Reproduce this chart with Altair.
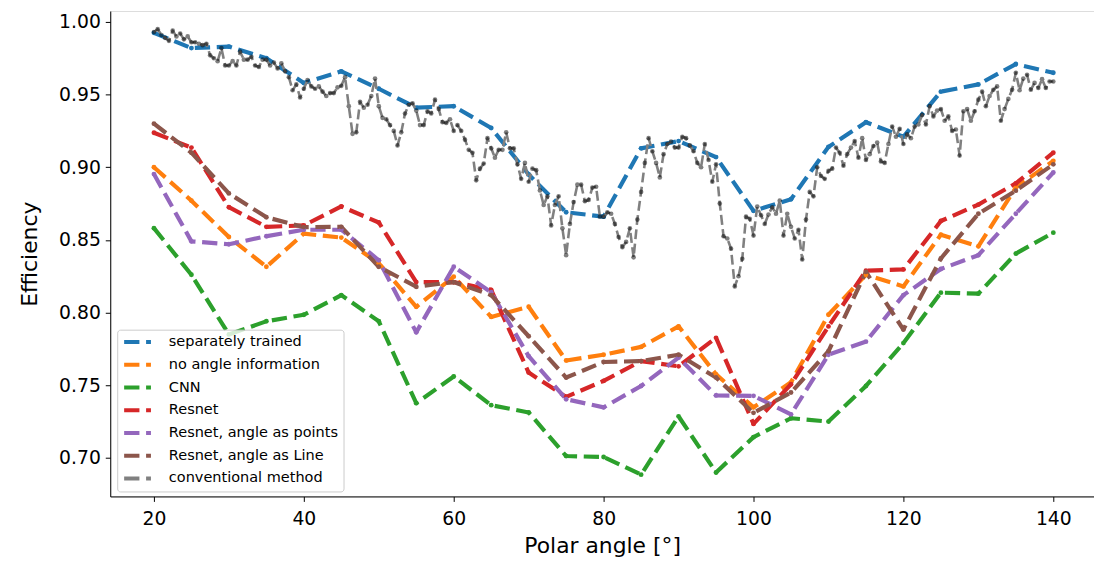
import altair as alt
import pandas as pd

# ---------------- data ----------------
ANGLES = [20, 25, 30, 35, 40, 45, 50, 55, 60, 65, 70, 75, 80, 85, 90,
          95, 100, 105, 110, 115, 120, 125, 130, 135, 140]

SEP_TRAINED = [0.9925, 0.982, 0.983, 0.975, 0.958, 0.966, 0.954, 0.941, 0.942, 0.927,
               0.895, 0.869, 0.866, 0.913, 0.918, 0.907, 0.870, 0.878, 0.914, 0.931,
               0.921, 0.952, 0.957, 0.971, 0.965]
NO_ANGLE = [0.900, 0.877, 0.852, 0.8315, 0.8543, 0.8516, 0.834, 0.804, 0.8247, 0.797,
            0.804, 0.767, 0.771, 0.7764, 0.7905, 0.7575, 0.7348, 0.752, 0.7985, 0.826,
            0.818, 0.8536, 0.8456, 0.886, 0.9044]
CNN = [0.8581, 0.826, 0.785, 0.794, 0.7985, 0.812, 0.794, 0.7377, 0.756, 0.7363,
       0.7313, 0.7013, 0.7006, 0.6885, 0.7286, 0.690, 0.7143, 0.7273, 0.725, 0.7495,
       0.779, 0.8137, 0.813, 0.8406, 0.855]
RESNET = [0.9237, 0.9135, 0.8725, 0.859, 0.860, 0.873, 0.862, 0.821, 0.821, 0.8156,
          0.7587, 0.742, 0.753, 0.7666, 0.763, 0.7826, 0.7234, 0.7507, 0.7905, 0.8288,
          0.8297, 0.863, 0.8743, 0.8889, 0.910]
RESNET_POINTS = [0.8953, 0.849, 0.847, 0.8525, 0.857, 0.857, 0.836, 0.7864, 0.8315, 0.814,
                 0.770, 0.7404, 0.7348, 0.7495, 0.769, 0.743, 0.7427, 0.730, 0.771, 0.780,
                 0.812, 0.830, 0.8395, 0.868, 0.8964]
RESNET_LINE = [0.930, 0.910, 0.882, 0.8656, 0.8588, 0.859, 0.8315, 0.8178, 0.821, 0.812,
               0.7837, 0.7553, 0.766, 0.7666, 0.771, 0.7553, 0.731, 0.745, 0.7734, 0.828,
               0.7883, 0.8372, 0.868, 0.8839, 0.902]

CONV_ANGLES = [20, 20.5, 21, 21.5, 22, 22.5, 23, 23.5, 24, 24.5, 25, 25.5, 26, 26.5, 27, 27.5,
               28, 28.5, 29, 29.5, 30, 30.5, 31, 31.5, 32, 32.5, 33, 33.5, 34, 34.5, 35, 35.5,
               36, 36.5, 37, 37.5, 38, 38.5, 39, 39.5, 40, 40.5, 41, 41.5, 42, 42.5, 43, 43.5,
               44, 44.5, 45, 45.5, 46, 46.5, 47, 47.5, 48, 48.5, 49, 49.5, 50, 50.5, 51, 51.5,
               52, 52.5, 53, 53.5, 54, 54.5, 55, 55.5, 56, 56.5, 57, 57.5, 58, 58.5, 59, 59.5,
               60, 60.5, 61, 61.5, 62, 62.5, 63, 63.5, 64, 64.5, 65, 65.5, 66, 66.5, 67, 67.5,
               68, 68.5, 69, 69.5, 70, 70.5, 71, 71.5, 72, 72.5, 73, 73.5, 74, 74.5, 75, 75.5,
               76, 76.5, 77, 77.5, 78, 78.5, 79, 79.5, 80, 80.5, 81, 81.5, 82, 82.5, 83, 83.5,
               84, 84.5, 85, 85.5, 86, 86.5, 87, 87.5, 88, 88.5, 89, 89.5, 90, 90.5, 91, 91.5,
               92, 92.5, 93, 93.5, 94, 94.5, 95, 95.5, 96, 96.5, 97, 97.5, 98, 98.5, 99, 99.5,
               100, 100.5, 101, 101.5, 102, 102.5, 103, 103.5, 104, 104.5, 105, 105.5, 106, 106.5,
               107, 107.5, 108, 108.5, 109, 109.5, 110, 110.5, 111, 111.5, 112, 112.5, 113, 113.5,
               114, 114.5, 115, 115.5, 116, 116.5, 117, 117.5, 118, 118.5, 119, 119.5, 120, 120.5,
               121, 121.5, 122, 122.5, 123, 123.5, 124, 124.5, 125, 125.5, 126, 126.5, 127, 127.5,
               128, 128.5, 129, 129.5, 130, 130.5, 131, 131.5, 132, 132.5, 133, 133.5, 134, 134.5,
               135, 135.5, 136, 136.5, 137, 137.5, 138, 138.5, 139, 139.5, 140]
CONVENTIONAL = [0.993, 0.995, 0.991, 0.989, 0.987, 0.994, 0.990, 0.992, 0.988, 0.990, 0.986, 0.986,
                0.985, 0.984, 0.985, 0.977, 0.975, 0.973, 0.982, 0.970, 0.970, 0.973, 0.970, 0.9795,
                0.974, 0.974, 0.976, 0.970, 0.969, 0.974, 0.974, 0.970, 0.972, 0.968, 0.9715, 0.966,
                0.962, 0.953, 0.957, 0.948, 0.954, 0.960, 0.9556, 0.954, 0.9556, 0.952, 0.949, 0.951,
                0.951, 0.955, 0.956, 0.962, 0.942, 0.923, 0.924, 0.945, 0.941, 0.943, 0.949, 0.961,
                0.942, 0.934, 0.933, 0.929, 0.925, 0.915, 0.924, 0.937, 0.943, 0.944, 0.939, 0.929,
                0.929, 0.9385, 0.937, 0.9465, 0.940, 0.931, 0.9305, 0.933, 0.925, 0.929, 0.925, 0.919,
                0.912, 0.910, 0.891, 0.899, 0.9025, 0.920, 0.913, 0.9066, 0.912, 0.912, 0.924, 0.913,
                0.913, 0.902, 0.892, 0.903, 0.890, 0.899, 0.898, 0.884, 0.874, 0.880, 0.860, 0.874,
                0.880, 0.858, 0.8395, 0.861, 0.876, 0.888, 0.888, 0.8766, 0.8775, 0.886, 0.8866, 0.866,
                0.866, 0.869, 0.868, 0.861, 0.852, 0.845, 0.8486, 0.858, 0.838, 0.864, 0.883, 0.903,
                0.920, 0.911, 0.903, 0.893, 0.909, 0.916, 0.9176, 0.9135, 0.9135, 0.921, 0.920, 0.915,
                0.911, 0.903, 0.900, 0.916, 0.905, 0.890, 0.902, 0.875, 0.8525, 0.851, 0.844, 0.818,
                0.825, 0.837, 0.866, 0.8645, 0.853, 0.873, 0.867, 0.861, 0.8675, 0.8725, 0.868, 0.877,
                0.853, 0.868, 0.859, 0.851, 0.857, 0.8365, 0.864, 0.883, 0.880, 0.900, 0.894, 0.892,
                0.8975, 0.899, 0.9135, 0.910, 0.901, 0.909, 0.9135, 0.918, 0.9066, 0.920, 0.905, 0.909,
                0.9146, 0.917, 0.904, 0.903, 0.916, 0.928, 0.921, 0.9265, 0.916, 0.9226, 0.920, 0.928,
                0.9294, 0.936, 0.9294, 0.942, 0.935, 0.939, 0.940, 0.932, 0.935, 0.925, 0.926, 0.908,
                0.9385, 0.940, 0.932, 0.9385, 0.9465, 0.952, 0.942, 0.949, 0.9533, 0.9556, 0.932, 0.940,
                0.947, 0.9533, 0.965, 0.953, 0.961, 0.9636, 0.9533, 0.958, 0.9545, 0.9606, 0.9545, 0.959,
                0.959]

SERIES_NAMES = ["separately trained", "no angle information", "CNN", "Resnet",
                "Resnet, angle as points", "Resnet, angle as Line", "conventional method"]
SERIES_COLORS = ["#1f77b4", "#ff7f0e", "#2ca02c", "#d62728", "#9467bd", "#8c564b", "#808080"]
X_TICKS = [20, 40, 60, 80, 100, 120, 140]
Y_TICKS = [0.70, 0.75, 0.80, 0.85, 0.90, 0.95, 1.00]

# ---------------- tables ----------------
model_values = [SEP_TRAINED, NO_ANGLE, CNN, RESNET, RESNET_POINTS, RESNET_LINE]
rows = []
for name, vals in zip(SERIES_NAMES[:6], model_values):
    for order, (a, v) in enumerate(zip(ANGLES, vals)):
        rows.append({"series": name, "angle": a, "value": v, "order": order})
models = pd.DataFrame(rows)
conv = pd.DataFrame({"series": SERIES_NAMES[6], "angle": CONV_ANGLES, "value": CONVENTIONAL})

FONT = "DejaVu Sans"

x_scale = alt.Scale(domain=[14.17, 145.43], nice=False, zero=False)
y_scale = alt.Scale(domain=[0.6735, 1.0075], nice=False, zero=False)
c_scale = alt.Scale(domain=SERIES_NAMES, range=SERIES_COLORS)

x_axis = alt.Axis(values=X_TICKS, title="Polar angle [°]", grid=False, labelFontSize=18.9,
                  titleFontSize=22, tickSize=5, labelPadding=8, titlePadding=8,
                  domainColor="black", tickColor="black", labelColor="black",
                  titleColor="black", titleFontWeight="normal", labelFont=FONT,
                  titleFont=FONT, labelFlush=False)
y_axis = alt.Axis(values=Y_TICKS, format=".2f", title="Efficiency", grid=False,
                  labelFontSize=18.9, titleFontSize=22, tickSize=5, labelPadding=5,
                  titlePadding=17, domainColor="black", tickColor="black",
                  labelColor="black", titleColor="black", titleFontWeight="normal",
                  labelFont=FONT, titleFont=FONT, labelFlush=False)

color = alt.Color(
    "series:N",
    scale=c_scale,
    sort=SERIES_NAMES,
    legend=alt.Legend(
        orient="none", legendX=7, legendY=321, title=None,
        symbolType="stroke", symbolSize=729, symbolStrokeWidth=4,
        symbolDash=[15.4, 6.7], clipHeight=15, rowPadding=6.9,
        labelFontSize=14.6, labelFont=FONT, labelColor="black", labelOffset=16,
        labelLimit=0, padding=5, fillColor="rgba(255,255,255,0.8)",
        strokeColor="#cccccc", cornerRadius=3, symbolOffset=0,
    ),
)

model_lines = alt.Chart(models).mark_line(
    strokeWidth=4.2, strokeDash=[15.4, 6.7], strokeJoin="round", clip=True
).encode(
    x=alt.X("angle:Q", scale=x_scale, axis=x_axis),
    y=alt.Y("value:Q", scale=y_scale, axis=y_axis),
    color=color,
    order="order:Q",
    detail="series:N",
)

model_points = alt.Chart(models).mark_circle(size=24, opacity=1).encode(
    x=alt.X("angle:Q", scale=x_scale),
    y=alt.Y("value:Q", scale=y_scale),
    color=alt.Color("series:N", scale=c_scale, legend=None),
)

conv_line = alt.Chart(conv).mark_line(
    strokeWidth=2.6, strokeDash=[10, 4.4], strokeJoin="round"
).encode(
    x=alt.X("angle:Q", scale=x_scale),
    y=alt.Y("value:Q", scale=y_scale),
    color=alt.Color("series:N", scale=c_scale, legend=None),
)

conv_points = alt.Chart(conv).mark_circle(size=22, color="black", opacity=0.5).encode(
    x=alt.X("angle:Q", scale=x_scale),
    y=alt.Y("value:Q", scale=y_scale),
)

chart = alt.layer(model_lines, model_points, conv_line, conv_points).properties(
    width=991, height=489,
    autosize=alt.AutoSizeParams(type="none"),
    padding={"left": 103, "top": 1, "right": 0, "bottom": 61},
).configure_view(stroke="#222222", strokeWidth=1.5).configure(background="white")

chart.save("out.html", embed_options={"renderer": "svg", "actions": False})
